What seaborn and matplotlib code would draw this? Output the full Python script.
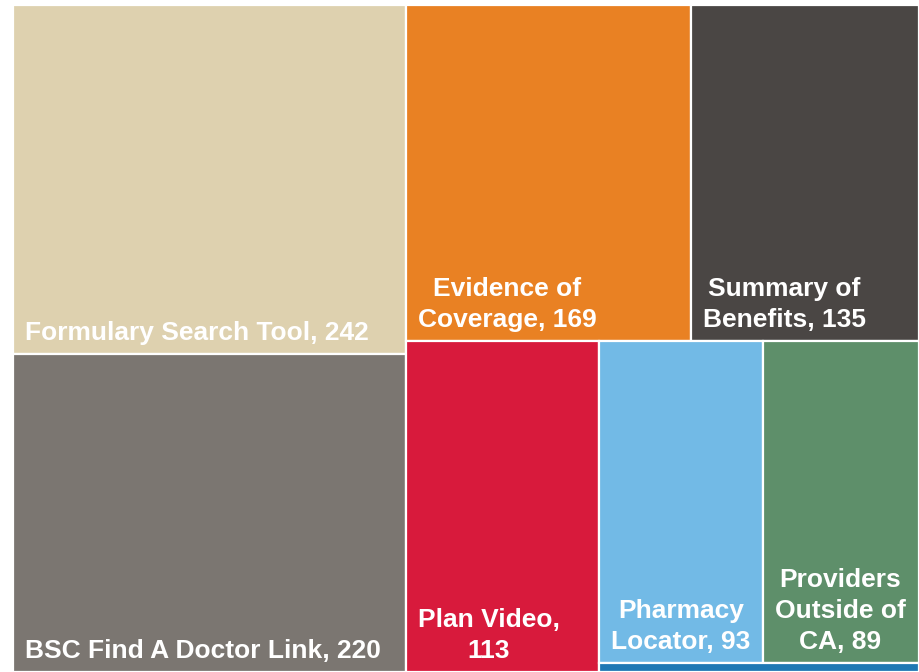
import matplotlib
matplotlib.use("Agg")
import matplotlib.pyplot as plt
import matplotlib.patches as mpatches
import seaborn as sns

labels = ["Formulary Search Tool", "BSC Find A Doctor Link", "Evidence of Coverage",
          "Summary of Benefits", "Plan Video", "Pharmacy Locator",
          "Providers Outside of CA", "Other"]
values = [242, 220, 169, 135, 113, 93, 89, 5]
colors = ["#DED1AF", "#7B7671", "#E98123", "#4A4644", "#D81A3C", "#72BAE6",
          "#5E8F6A", "#1F78B4"]

sns.set_style("white")
plt.rcParams["font.family"] = ["Liberation Sans", "DejaVu Sans"]

W, H = 906.0, 667.0


def worst(row, short):
    s = sum(row)
    return max(max(short * short * r / (s * s), s * s / (short * short * r)) for r in row)


def squarify(vals, x, y, w, h):
    total = sum(vals)
    areas = [v * w * h / total for v in vals]
    rects = []
    while areas:
        short = min(w, h)
        row = [areas[0]]
        i = 1
        while i < len(areas):
            if worst(row + [areas[i]], short) <= worst(row, short) * 1.1:
                row.append(areas[i])
                i += 1
            else:
                break
        s = sum(row)
        if w >= h:
            cw = s / h
            yy = y
            for a in row:
                rh = a / cw
                rects.append((x, yy, cw, rh))
                yy += rh
            x += cw
            w -= cw
        else:
            rh = s / w
            xx = x
            for a in row:
                rw = a / rh
                rects.append((xx, y, rw, rh))
                xx += rw
            y += rh
            h -= rh
        areas = areas[len(row):]
    return rects


fig = plt.figure(figsize=(9.19, 6.72), dpi=100)
ax = fig.add_axes([13 / 919, 0, W / 919, H / 672])
ax.set_xlim(0, W)
ax.set_ylim(H, 0)
ax.axis("off")

rects = squarify(values, 0, 0, W, H)
fig.canvas.draw()
renderer = fig.canvas.get_renderer()

FS = 19
PAD = 12


def text_width(s):
    t = ax.text(0, 0, s, fontsize=FS, fontweight="bold")
    bb = t.get_window_extent(renderer=renderer)
    t.remove()
    return bb.width


for (x, y, w, h), lab, val, col in zip(rects, labels, values, colors):
    ax.add_patch(mpatches.Rectangle((x, y), w, h, facecolor=col,
                                    edgecolor="white", linewidth=1.6))
    if h < 40:
        continue
    words = f"{lab}, {val}".split(" ")
    avail = w - 2 * PAD + 4
    lines = []
    cur = ""
    for wd in words:
        trial = wd if not cur else cur + " " + wd
        if cur and text_width(trial) > avail:
            lines.append(cur)
            cur = wd
        else:
            cur = trial
    lines.append(cur)
    ax.text(x + PAD, y + h - 9, "\n".join(lines), fontsize=FS, fontweight="bold",
            color="white", ha="left", va="bottom", multialignment="center",
            linespacing=1.37)

fig.savefig("out.png", dpi=100)
